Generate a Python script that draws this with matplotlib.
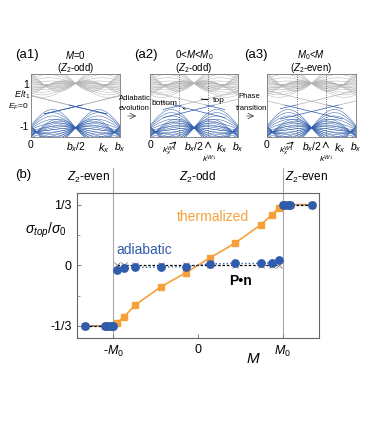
import numpy as np
import matplotlib
matplotlib.use('Agg')
from matplotlib import pyplot as plt

plt.rcParams['font.family'] = ['Liberation Sans', 'DejaVu Sans']
plt.rcParams['mathtext.fontset'] = 'custom'
plt.rcParams['mathtext.rm'] = 'Liberation Sans'
plt.rcParams['mathtext.it'] = 'Liberation Sans:italic'
plt.rcParams['mathtext.bf'] = 'Liberation Sans:bold'

# ---- panel (b) data, M in units of M0 ----
M = [-1.34, -1.10, -1.08, -1.04, -1.02, -1.00, -0.96, -0.875, -0.745, -0.44, -0.146,
     0.146, 0.44, 0.745, 0.875, 0.96, 1.00, 1.02, 1.06, 1.09, 1.345]
adiabatic = [-0.3333, -0.3333, -0.3333, -0.3333, -0.3333, -0.3333,
             -0.027, -0.015, -0.012, -0.010, -0.008, 0.008, 0.010, 0.010, 0.013, 0.027,
             0.3333, 0.3333, 0.3333, 0.3333, 0.3333]
thermalized = [-0.3333, -0.3333, -0.3333, -0.3333, -0.3333, -0.3333,
               -0.317, -0.284, -0.220, -0.119, -0.042, 0.042, 0.122, 0.224, 0.279, 0.317,
               0.3333, 0.3333, 0.3333, 0.3333, 0.3333]
Pn = [-0.3333, -0.3333, -0.3333, -0.3333, -0.3333, -0.3333,
      0, 0, 0, 0, 0, 0, 0, 0, 0, 0,
      0.3333, 0.3333, 0.3333, 0.3333, 0.3333]

# ---- panel (a) band parameters (k in units of b_x) ----
cond_center = 1.05      # gray crossing at b_x/2
val_center = -1.10      # blue crossing at b_x/2
cond_tilt = [-0.30, -0.24, -0.18, -0.12, -0.06, 0.0, 0.10, 0.20, 0.30, 0.40, 0.50, 0.60]
cond_curv = [-0.55, -0.46, -0.36, -0.27, -0.18, -0.08, 0.02, 0.12, 0.22, 0.31, 0.40, 0.50]
val_tilt = [-0.60, -0.48, -0.36, -0.24, -0.12, 0.0, 0.14, 0.28, 0.42, 0.56, 0.70, 0.83]
val_curv = [-0.45, -0.40, -0.35, -0.30, -0.25, -0.19, -0.14, -0.08, -0.03, 0.02, 0.06, 0.10]
# edge states: (k, E) points of the descending branch, one for each surface
edge_k = [0.0, 0.25, 0.5, 0.75, 0.85]
edge_a1 = {'top': [0.45, 0.19, -0.08, -0.33, -0.43], 'bottom': [0.45, 0.19, -0.08, -0.33, -0.43]}
edge_a2 = {'top': [0.66, 0.40, 0.14, -0.12, -0.22], 'bottom': [0.28, 0.02, -0.25, -0.51, -0.61]}
edge_a3 = {'top': [0.70, 0.44, 0.18, -0.08, -0.18], 'bottom': [0.20, -0.06, -0.32, -0.58, -0.68]}
weyl_k = [0.333, 0.66]

gray = '#b3b3b3'
blue = '#2f5cac'
orange = '#f7a03a'

fig = plt.figure(figsize=(3.74, 4.26), dpi=100)
W, H = 374.0, 426.0


def px_axes(l, r, t, b):
    return fig.add_axes([l / W, 1 - b / H, (r - l) / W, (b - t) / H])


def draw_line(ax, k, E, lw=0.35):
    ax.plot(k, np.where(E >= 0, E, np.nan), color=gray, lw=lw)
    ax.plot(k, np.where(E <= 0, E, np.nan), color=blue, lw=lw)


def band_panel(ax, edges, dotted):
    k = np.linspace(0, 1, 300)
    u = np.pi * k
    for a, c in zip(cond_tilt, cond_curv):
        for sgn in (1, -1):
            draw_line(ax, k, cond_center + sgn * a * np.sin(2 * u) + c * np.cos(u) ** 2)
    for a, c in zip(val_tilt, val_curv):
        for sgn in (1, -1):
            draw_line(ax, k, val_center + sgn * a * np.sin(2 * u) + c * np.cos(u) ** 2)
    kk = np.array(edge_k)
    for surf in ('top', 'bottom'):
        ee = np.array(edges[surf])
        kf = np.linspace(kk[0], kk[-1], 200)
        ef = np.interp(kf, kk, ee)
        draw_line(ax, kf, ef, lw=0.5)
        draw_line(ax, 1 - kf, ef, lw=0.5)
    for kw in dotted:
        ax.axvline(kw, color='#444444', lw=0.6, ls=':')
    ax.set_xlim(0, 1)
    ax.set_ylim(-1.55, 1.5)
    ax.set_xticks([0, 0.5, 1])
    ax.set_xticklabels(['0', r'$b_x$/2', r'$b_x$'], fontsize=7.5)
    ax.tick_params(length=0, pad=2)
    ax.set_yticks([])
    for sp in ax.spines.values():
        sp.set_color('#777777')
        sp.set_linewidth(0.6)
    ax.text(0.82, -0.17, r'$k_x$', transform=ax.transAxes, fontsize=8, ha='center', va='center')


def fig_arrow(ax, x0, x1, y):
    ax.annotate('', xy=(x1 / W, 1 - y / H), xytext=(x0 / W, 1 - y / H),
                xycoords='figure fraction', textcoords='figure fraction', annotation_clip=False,
                arrowprops=dict(arrowstyle='->', lw=0.5, color='#333333'))


def broken(y):
    # break the connecting line where the value jumps between plateaus
    y = np.array(y, dtype=float)
    xs, ys = [], []
    for i in range(len(y)):
        if i > 0 and abs(y[i] - y[i - 1]) > 0.2:
            xs.append(np.nan)
            ys.append(np.nan)
        xs.append(M[i])
        ys.append(y[i])
    return xs, ys


a1 = px_axes(31, 120, 74, 137)
a2 = px_axes(150, 238, 74, 137)
a3 = px_axes(267, 356, 74, 137)
band_panel(a1, edge_a1, [])
band_panel(a2, edge_a2, weyl_k)
band_panel(a3, edge_a3, weyl_k)

a1.set_yticks([1, 0, -1])
a1.set_yticklabels(['1', r'$E_F$=0', '-1'], fontsize=6)
a1.tick_params(axis='y', length=0, pad=1.5)
a1.get_yticklabels()[0].set_fontsize(7.5)
a1.get_yticklabels()[2].set_fontsize(7.5)
fig.text(22 / W, 1 - 95 / H, r'$E/t_1$', fontsize=6.5, ha='center', va='center')

# panel titles
for x0, lab, x1, line1, line2 in [(27, '(a1)', 75.5, r'$M$=0', r'($Z_2$-odd)'),
                                  (146, '(a2)', 194, r'0<$M$<$M_0$', r'($Z_2$-odd)'),
                                  (256, '(a3)', 311.5, r'$M_0$<$M$', r'($Z_2$-even)')]:
    fig.text(x0 / W, 1 - 55 / H, lab, fontsize=9.5, ha='center', va='center')
    fig.text(x1 / W, 1 - 55 / H, line1, fontsize=7, ha='center', va='center')
    fig.text(x1 / W, 1 - 68 / H, line2, fontsize=7, ha='center', va='center')

fig.text(119 / W, 1 - 98 / H, 'Adiabatic', fontsize=5.5, ha='left', va='center')
fig.text(119 / W, 1 - 109 / H, 'evolution', fontsize=5.5, ha='left', va='center')
fig_arrow(a1, 125, 139, 116)
fig.text(238 / W, 1 - 97 / H, 'Phase', fontsize=5.5, ha='left', va='center')
fig.text(236 / W, 1 - 108 / H, 'transition', fontsize=5.5, ha='left', va='center')
fig_arrow(a1, 244, 257, 116)

# labels of surface states in (a2)
a2.annotate('bottom', xy=(0.4, -0.2), xytext=(0.02, 0.08), fontsize=6, ha='left', va='center',
            arrowprops=dict(arrowstyle='-', lw=0.7, color='black'))
a2.annotate('top', xy=(0.55, 0.3), xytext=(0.72, 0.2), fontsize=6, ha='left', va='center',
            arrowprops=dict(arrowstyle='-', lw=0.7, color='black'))
for ax in (a2, a3):
    ax.annotate('', xy=(weyl_k[0] - 0.01, -1.68), xytext=(weyl_k[0] - 0.08, -1.95),
                annotation_clip=False, arrowprops=dict(arrowstyle='->', lw=0.6, color='black'))
    ax.annotate('', xy=(weyl_k[1], -1.62), xytext=(weyl_k[1], -2.0),
                annotation_clip=False, arrowprops=dict(arrowstyle='->', lw=0.6, color='black'))
    ax.text(weyl_k[0] - 0.12, -2.25, r'$k_x^{W_1}$', fontsize=6, ha='center', va='center')
    ax.text(weyl_k[1] + 0.01, -2.62, r'$k^{W_1}$', fontsize=6, ha='center', va='center')

# ---- panel (b) ----
ax = px_axes(77, 319, 192.5, 338)
ax.plot(M, thermalized, color=orange, lw=1.2, marker='s', ms=4.5, mec=orange, mfc=orange, zorder=3)
bx, by = broken(Pn)
ax.plot(bx, by, color='black', lw=0.9, ls='--', dashes=(2, 1.5), zorder=4)
ax.plot(M, Pn, ls='none', marker='x', ms=4.5, mec='#777777', mew=0.6, zorder=4)
bx, by = broken(adiabatic)
ax.plot(bx, by, color=blue, lw=1.0, ls=':', zorder=5)
ax.plot(M, adiabatic, ls='none', marker='o', ms=5.3, mec=blue, mfc=blue, zorder=5)
for m0 in (-1, 1):
    ax.axvline(m0, ymin=0, ymax=1.17, color='#aaaaaa', lw=0.8, clip_on=False, zorder=1)
ax.set_xlim(-1.43, 1.43)
ax.set_ylim(-0.4, 0.4)
ax.set_xticks([-1, 0, 1])
ax.set_xticklabels([r'-$M_0$', '0', r'$M_0$'], fontsize=9)
ax.set_yticks([-1 / 3, 0, 1 / 3])
ax.set_yticklabels(['-1/3', '0', '1/3'], fontsize=9)
ax.set_yticks([-1 / 6, 1 / 6], minor=True)
ax.tick_params(direction='in', length=3, color='#888888', pad=4)
ax.tick_params(which='minor', direction='in', length=2, color='#888888')
for sp in ax.spines.values():
    sp.set_color('#666666')
    sp.set_linewidth(0.8)

ax.text(-1.04, 0.485, r'$Z_2$-even', fontsize=8.5, ha='right', va='center')
ax.text(0.0, 0.485, r'$Z_2$-odd', fontsize=8.5, ha='center', va='center')
ax.text(1.03, 0.485, r'$Z_2$-even', fontsize=8.5, ha='left', va='center')
ax.text(0.18, 0.265, 'thermalized', color=orange, fontsize=10, ha='center', va='center')
ax.text(-0.63, 0.082, 'adiabatic', color=blue, fontsize=10, ha='center', va='center')
ax.text(0.50, -0.088, 'P\u2022n', color='black', fontsize=10, fontweight='bold', ha='center', va='center')

fig.text(23 / W, 1 - 175 / H, '(b)', fontsize=9.5, ha='center', va='center')
fig.text(46 / W, 1 - 230 / H, r'$\sigma_{top}/\sigma_0$', fontsize=10, ha='center', va='center')
fig.text(253 / W, 1 - 359 / H, r'$M$', fontsize=11, ha='center', va='center')

fig.savefig('out.png', dpi=100)
